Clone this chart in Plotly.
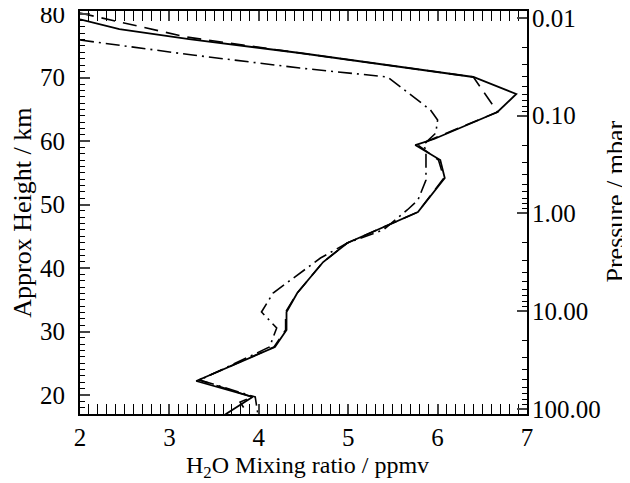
import plotly.graph_objects as go

# H2O mixing ratio (ppmv) vs approximate height (km)
solid_x = [2.00, 2.44, 3.22, 4.46, 6.40, 6.88, 6.67, 5.96, 5.75, 6.03, 6.08, 5.78, 4.99, 4.72, 4.43, 4.31, 4.31, 4.18, 3.30, 3.93, 3.65, 3.54]
solid_y = [79.20, 77.67, 76.09, 73.89, 70.11, 67.43, 64.59, 60.34, 59.39, 57.03, 54.19, 48.83, 43.95, 40.95, 36.07, 33.08, 30.24, 27.56, 22.20, 19.68, 17.16, 16.06]

dash_x = [2.00, 3.19, 4.46, 6.40, 6.67, 5.96, 5.78, 6.01, 6.07, 5.78, 4.99, 4.72, 4.43, 4.30, 4.30, 4.17, 3.33, 3.93, 3.79, 3.87, 3.90]
dash_y = [80.19, 76.41, 73.89, 70.11, 64.59, 60.34, 59.39, 57.03, 54.19, 48.83, 43.95, 40.95, 36.07, 33.08, 30.24, 27.56, 22.36, 19.68, 18.89, 17.16, 16.06]

dd_x = [2.00, 3.26, 4.46, 5.44, 5.92, 6.00, 5.98, 5.84, 5.87, 5.87, 5.78, 5.66, 5.39, 4.99, 4.69, 4.38, 4.16, 4.03, 4.20, 4.12, 3.34, 3.96, 3.99, 4.00]
dd_y = [75.94, 73.57, 71.52, 70.11, 64.91, 63.33, 61.28, 59.39, 58.60, 53.88, 50.72, 49.15, 46.00, 43.95, 41.58, 38.43, 36.07, 33.08, 30.55, 27.56, 22.36, 19.68, 17.16, 16.06]

x_ticks = [2, 3, 4, 5, 6, 7]
km_ticks = [20, 30, 40, 50, 60, 70, 80]
p_ticks = [0.01, 0.1, 1, 10, 100]
p_labels = ["0.01", "0.10", "1.00", "10.00", "100.00"]
p_minor = [m * d for d in [0.01, 0.1, 1, 10] for m in range(2, 10)]

FONT = "Liberation Serif"
TICK = 25

fig = go.Figure()
fig.add_trace(go.Scatter(x=solid_x, y=solid_y, mode="lines",
                         line=dict(color="black", width=1.8), showlegend=False))
fig.add_trace(go.Scatter(x=dash_x, y=dash_y, mode="lines",
                         line=dict(color="black", width=1.6, dash="14px,8px"), showlegend=False))
fig.add_trace(go.Scatter(x=dd_x, y=dd_y, mode="lines",
                         line=dict(color="black", width=1.6, dash="14px,5px,2px,5px"), showlegend=False))
# pressure axis carrier
fig.add_trace(go.Scatter(x=[], y=[], yaxis="y2", showlegend=False, hoverinfo="skip"))

fig.update_layout(
    width=622, height=475,
    margin=dict(l=72, r=103, t=3, b=69, autoexpand=False),
    paper_bgcolor="white", plot_bgcolor="white",
    font=dict(family=FONT, size=TICK, color="black"),
    xaxis=dict(range=[2, 7], tickvals=x_ticks, ticks="inside", ticklen=10, tickwidth=1.5,
               showline=True, linewidth=2, linecolor="black", mirror="allticks",
               showgrid=False, zeroline=False, automargin=False, ticklabelstandoff=0,
               ticklabeloverflow="allow",
               minor=dict(dtick=0.1, ticks="inside", ticklen=5, tickwidth=1.2, tickcolor="black", showgrid=False),
               tickfont=dict(size=TICK)),
    yaxis=dict(range=[17.0, 80.51], tickvals=km_ticks, ticks="inside", ticklen=10, tickwidth=1.5,
               showline=True, linewidth=2, linecolor="black", mirror=False,
               showgrid=False, zeroline=False, automargin=False, ticklabelstandoff=8,
               ticklabeloverflow="allow",
               minor=dict(dtick=1, ticks="inside", ticklen=5, tickwidth=1.2, tickcolor="black", showgrid=False),
               tickfont=dict(size=TICK)),
    yaxis2=dict(type="log", range=[2.053, -2.0717], overlaying="y", side="right",
                tickvals=p_ticks, ticktext=p_labels, ticks="inside", ticklen=10, tickwidth=1.5,
                showline=True, linewidth=2, linecolor="black", showgrid=False, zeroline=False,
                automargin=False, ticklabelstandoff=-2, ticklabeloverflow="allow",
                minor=dict(tickvals=p_minor, ticks="inside", ticklen=5, tickwidth=1.2, tickcolor="black", showgrid=False),
                tickfont=dict(size=TICK)),
    annotations=[
        dict(text="H<sub>2</sub>O Mixing ratio / ppmv", xref="paper", yref="paper",
             x=0.508, y=-0.131, xanchor="center", yanchor="middle", showarrow=False,
             font=dict(size=24)),
        dict(text="Approx Height / km", xref="paper", yref="paper", textangle=-90,
             x=-0.128, y=0.499, xanchor="center", yanchor="middle", showarrow=False,
             font=dict(size=26)),
        dict(text="Pressure / mbar", xref="paper", yref="paper", textangle=-90,
             x=1.198, y=0.526, xanchor="center", yanchor="middle", showarrow=False,
             font=dict(size=26)),
    ],
)

fig.write_html("out.html")
